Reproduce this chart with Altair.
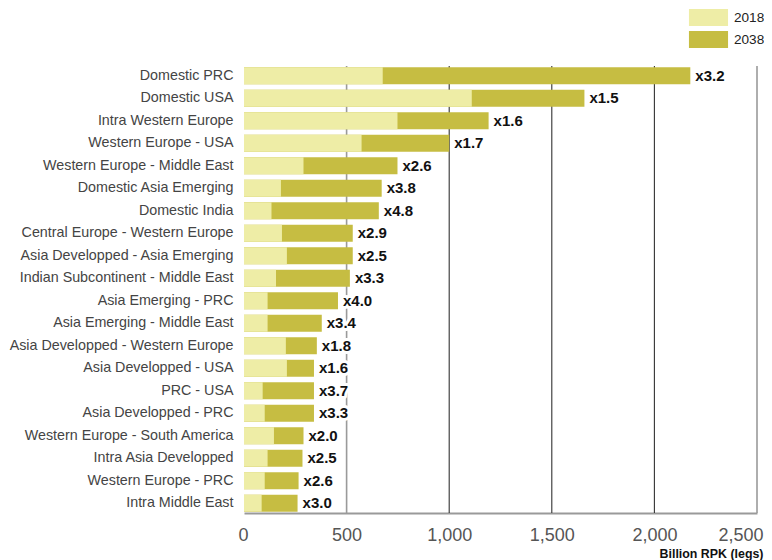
import altair as alt
import pandas as pd

routes = [
    "Domestic PRC", "Domestic USA", "Intra Western Europe", "Western Europe - USA",
    "Western Europe - Middle East", "Domestic Asia Emerging", "Domestic India",
    "Central Europe - Western Europe", "Asia Developped - Asia Emerging",
    "Indian Subcontinent - Middle East", "Asia Emerging - PRC",
    "Asia Emerging - Middle East", "Asia Developped - Western Europe",
    "Asia Developped - USA", "PRC - USA", "Asia Developped - PRC",
    "Western Europe - South America", "Intra Asia Developped",
    "Western Europe - PRC", "Intra Middle East",
]
rpk_2018 = [676, 1110, 748, 573, 290, 180, 134, 185, 209, 156,
            115, 115, 204, 209, 91, 101, 146, 115, 101, 86]
rpk_2038 = [2175, 1659, 1192, 1000, 748, 671, 657, 530, 530, 516,
            458, 379, 355, 341, 341, 341, 290, 285, 266, 261]
growth = ["x3.2", "x1.5", "x1.6", "x1.7", "x2.6", "x3.8", "x4.8", "x2.9", "x2.5", "x3.3",
          "x4.0", "x3.4", "x1.8", "x1.6", "x3.7", "x3.3", "x2.0", "x2.5", "x2.6", "x3.0"]
years = ["2018", "2038"]
x_ticks = [0, 500, 1000, 1500, 2000, 2500]
grid_values = [500, 1000, 1500, 2000, 2500]

long_rows = []
for r, v in zip(routes, rpk_2038):
    long_rows.append({"route": r, "year": "2038", "value": v})
for r, v in zip(routes, rpk_2018):
    long_rows.append({"route": r, "year": "2018", "value": v})
bars_df = pd.DataFrame(long_rows)
labels_df = pd.DataFrame({"route": routes, "value": rpk_2038, "label": growth})
grid_df = pd.DataFrame({"v": grid_values})

FONT = "Liberation Sans, Arial, Helvetica, sans-serif"

x_scale = alt.Scale(domain=[0, 2500], nice=False)
x_axis = alt.Axis(values=x_ticks, format=",.0f", grid=False, ticks=False,
                  domainColor="#9a9a9a", domainWidth=2,
                  labelFont=FONT, labelFontSize=18, labelColor="#555555",
                  labelPadding=13, labelFlush=True, labelFlushOffset=6,
                  title="Billion RPK (legs)", titleFont=FONT,
                  titleFontSize=12.4, titleFontWeight="bold",
                  titleColor="#111111", titleAnchor="end", titleAlign="right",
                  titleBaseline="alphabetic", titleX=519, titleY=44)
y_axis = alt.Axis(title=None, domain=False, ticks=False, labelPadding=11,
                  labelFont=FONT, labelFontSize=14.3, labelColor="#444444",
                  labelLimit=400)
y_scale = alt.Scale(paddingInner=0.245, paddingOuter=0.06)

grid = alt.Chart(grid_df).mark_rule().encode(
    x=alt.X("v:Q", scale=x_scale, axis=x_axis),
    color=alt.condition("datum.v == 500 || datum.v == 2500",
                        alt.value("#9a9a9a"), alt.value("#333333")),
    strokeWidth=alt.condition("datum.v == 500 || datum.v == 2500",
                              alt.value(1.6), alt.value(1.1)),
)

bars = alt.Chart(bars_df).mark_bar().encode(
    x=alt.X("value:Q", scale=x_scale, stack=None, axis=x_axis),
    y=alt.Y("route:N", sort=routes, scale=y_scale, axis=y_axis),
    color=alt.Color("year:N", scale=alt.Scale(domain=years, range=["#eeeda6", "#c6bd42"]),
                    legend=alt.Legend(title=None, orient="none", legendX=456, legendY=-57,
                                      symbolType="M-2.3,-1H2.3V1H-2.3Z",
                                      symbolSize=289, symbolStrokeWidth=0,
                                      labelFont=FONT, labelFontSize=13.6,
                                      labelColor="#222222", labelOffset=17,
                                      rowPadding=5, padding=0)),
)

halo = alt.Chart(labels_df).mark_text(
    align="left", baseline="middle", dx=5, font=FONT, fontSize=15, fontWeight="bold",
    stroke="white", strokeWidth=6, strokeJoin="round", fill="white",
).encode(x=alt.X("value:Q", scale=x_scale, axis=x_axis),
         y=alt.Y("route:N", sort=routes, scale=y_scale, axis=y_axis), text="label:N")

text = alt.Chart(labels_df).mark_text(
    align="left", baseline="middle", dx=5, font=FONT, fontSize=15, fontWeight="bold",
    color="#111111",
).encode(x=alt.X("value:Q", scale=x_scale, axis=x_axis),
         y=alt.Y("route:N", sort=routes, scale=y_scale, axis=y_axis), text="label:N")

chart = alt.layer(grid, bars, halo, text).properties(
    width=513, height=447,
    padding={"left": 236, "top": 58, "right": 7, "bottom": 47},
    autosize=alt.AutoSizeParams(type="none"),
).configure_view(stroke=None)

chart.save("out.html", embed_options={"renderer": "svg", "actions": False})
